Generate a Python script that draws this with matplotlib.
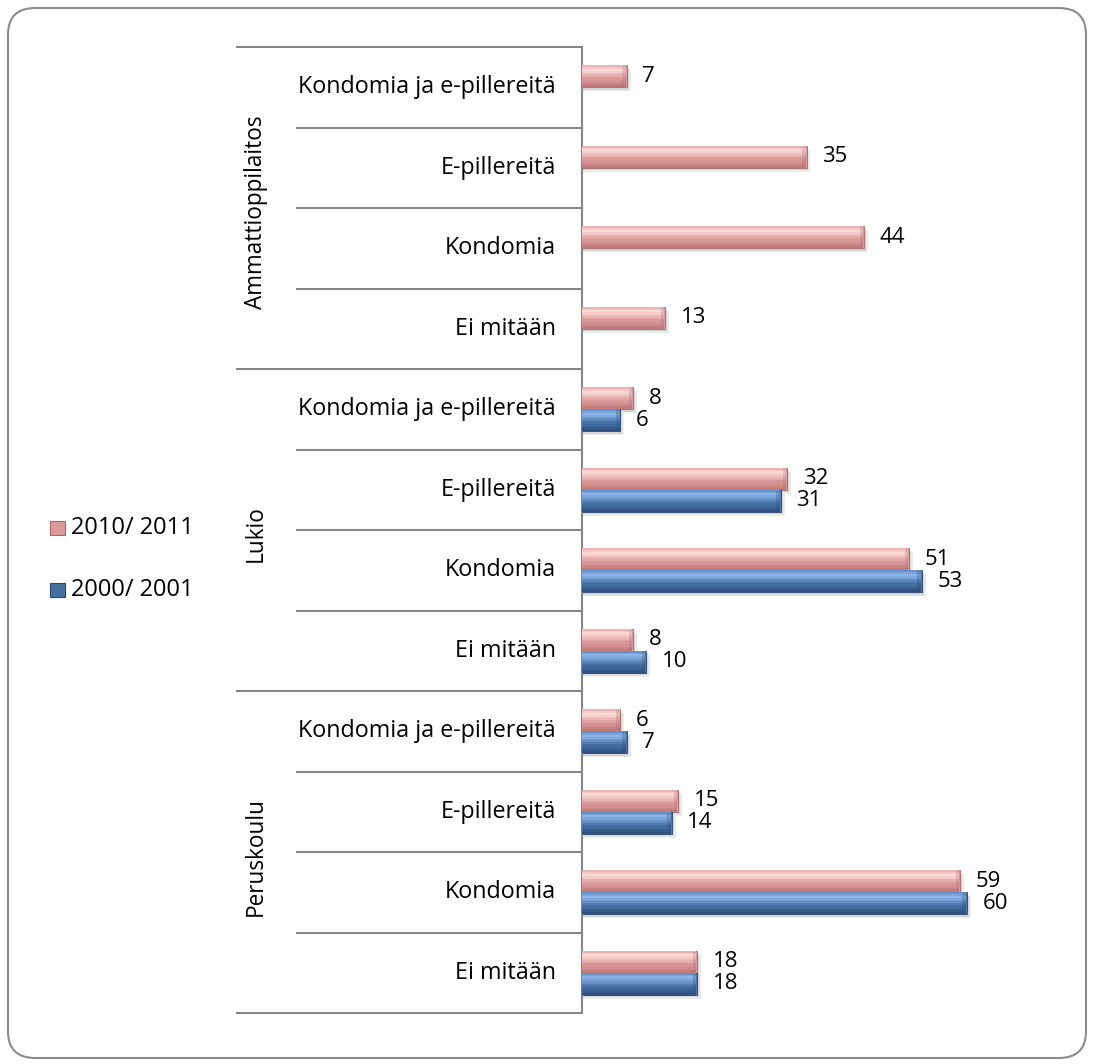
import numpy as np
import matplotlib.pyplot as plt
import matplotlib.transforms as mtransforms
from matplotlib.patches import FancyBboxPatch, Rectangle
from matplotlib.lines import Line2D
from matplotlib.colors import LinearSegmentedColormap

plt.rcParams['font.family'] = ['Open Sans', 'DejaVu Sans']

# data
groups = ['Ammattioppilaitos', 'Lukio', 'Peruskoulu']
items = ['Kondomia ja e-pillereitä', 'E-pillereitä', 'Kondomia', 'Ei mitään']
series = ['2010/ 2011', '2000/ 2001']
v2011 = [7, 35, 44, 13, 8, 32, 51, 8, 6, 15, 59, 18]
v2001 = [np.nan, np.nan, np.nan, np.nan, 6, 31, 53, 10, 7, 14, 60, 18]

# top -> bottom shading of the bevelled bars
pink_cm = LinearSegmentedColormap.from_list('p', ['#E7A9A8', '#FBDADA', '#F0BDBC', '#D99A99', '#D48E8D', '#B87574'])
blue_cm = LinearSegmentedColormap.from_list('b', ['#5C8AC6', '#8DB4E6', '#6E9AD2', '#44709F', '#3C659A', '#2C4C78'])
pink_edge = '#A56867'
blue_edge = '#28466F'

fig = plt.figure(figsize=(10.93, 10.64), dpi=100)
ax = fig.add_axes([582 / 1093, 1 - 1013 / 1064, 449 / 1093, 966 / 1064])

n = len(v2011)
y = np.arange(n)
h = 0.27
nstrip = 12


def draw_bars(vals, off, cm, edge):
    vals = np.array(vals, dtype=float)
    yy = y + off
    # soft shadow
    ax.barh(yy + 0.05, vals + 0.6, height=h, color='#000000', alpha=0.08, zorder=1)
    ax.barh(yy + 0.03, vals + 0.3, height=h, color='#000000', alpha=0.10, zorder=1)
    ax.barh(yy, vals, height=h, color=cm(0.5), edgecolor=edge, lw=0.6, zorder=2)
    # vertical gradient
    for k in range(nstrip):
        f = (k + 0.5) / nstrip
        ax.barh(yy - h / 2 + f * h, vals - 0.15, height=h / nstrip * 1.05,
                color=cm(f), lw=0, zorder=3)
    # bevelled right end
    ax.barh(yy, 0.7, left=vals - 0.7, height=h * 0.9, color=edge, alpha=0.25, lw=0, zorder=3)
    for yi, v in zip(yy, vals):
        if not np.isnan(v):
            ax.text(v + 2.4, yi, '%d' % v, va='center', ha='left', fontsize=16, zorder=4)


draw_bars(v2011, -0.137, pink_cm, pink_edge)
draw_bars(v2001, 0.137, blue_cm, blue_edge)

ax.set_xlim(0, 70)
ax.set_ylim(n - 0.5, -0.5)
for s in ['top', 'right', 'bottom']:
    ax.spines[s].set_visible(False)
ax.spines['left'].set_color('#868686')
ax.spines['left'].set_linewidth(1.5)
ax.set_xticks([])
ax.set_yticks([])

# category labels and separators left of the axis
trans = mtransforms.blended_transform_factory(ax.transAxes, ax.transData)
for i in range(n):
    ax.text(-0.058, i, items[i % 4], transform=trans, ha='right', va='center', fontsize=16.8)
for b in np.arange(-0.5, n, 1.0):
    x0 = -0.768 if (b + 0.5) % 4 == 0 else -0.635
    ax.add_line(Line2D([x0, 0.0], [b, b], transform=trans, color='#868686', lw=1.5, clip_on=False))
for g, name in enumerate(groups):
    ax.text(-0.726, 4 * g + 1.55, name, transform=trans, rotation=90, ha='center', va='center', fontsize=16.3)

# legend
for k, (lab, cm, edge) in enumerate(zip(series, [pink_cm, blue_cm], [pink_edge, blue_edge])):
    yf = 1 - (528 + 62 * k) / 1064
    fig.patches.append(Rectangle((50 / 1093, yf - 7 / 1064), 15 / 1093, 14 / 1064,
                                 transform=fig.transFigure, facecolor=cm(0.6),
                                 edgecolor=edge, lw=0.8))
    fig.text(71 / 1093, yf, lab, ha='left', va='center', fontsize=17)

# rounded chart border
fig.patches.append(FancyBboxPatch((8 / 1093, 6 / 1064), 1078 / 1093, 1050 / 1064,
                                  boxstyle='round,pad=0,rounding_size=0.025',
                                  transform=fig.transFigure, facecolor='none',
                                  edgecolor='#8C8C8C', lw=1.5))

fig.savefig('out.png', dpi=100)
